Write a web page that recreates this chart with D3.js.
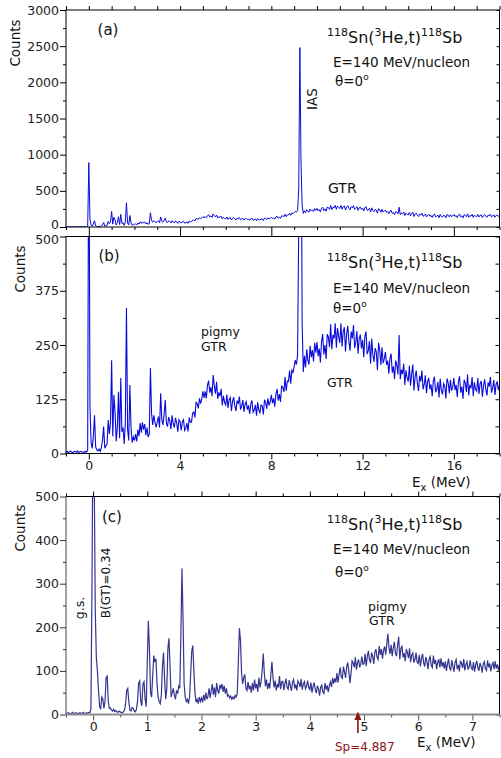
<!DOCTYPE html>
<html><head><meta charset="utf-8">
<script src="https://cdn.jsdelivr.net/npm/d3@7"></script>
<style>body{margin:0;background:#fff} svg{display:block}</style>
</head><body><svg id="chart" width="501" height="758"></svg>
<script>
// ---------- data ----------
// panels (a) and (b): same spectrum, bins of 0.05 MeV starting at -1 MeV
const abStartMeV = -1.0, abStepMeV = 0.05;
const abCounts = [
 3,5,2,4,6,3,2,5,4,3,6,2,4,5,3,4,2,5,3,8,
 890,110,25,12,40,88,15,8,6,10,5,14,30,62,12,18,22,77,45,70,
 215,40,135,95,28,60,142,35,174,50,60,22,70,335,55,30,158,60,25,38,
 30,45,28,55,40,70,48,72,55,68,42,60,38,45,197,92,66,88,72,60,
 72,85,60,139,78,66,90,123,70,62,84,75,56,88,68,60,82,71,50,78,
 73,53,74,78,53,58,70,51,83,72,72,93,96,83,118,115,104,127,115,125,
 143,128,143,127,157,168,140,153,132,181,156,138,165,126,141,132,149,111,133,118,
 112,136,105,124,129,98,120,130,109,98,122,114,131,101,109,123,96,114,119,101,
 111,91,115,122,95,100,112,87,118,100,94,112,110,90,124,118,103,127,111,119,
 135,116,127,108,137,149,122,137,119,155,153,142,176,144,167,166,191,161,192,187,
 200,215,205,228,520,2480,900,300,188,225,198,240,215,205,248,222,238,212,255,232,
 257,224,242,210,258,275,228,250,218,275,268,245,298,240,273,265,300,244,289,270,
 255,300,246,281,291,235,275,294,258,237,281,265,296,243,256,282,230,265,274,242,
 262,222,270,281,229,237,259,207,265,227,211,243,234,192,255,238,204,245,208,218,
 234,204,214,184,219,230,186,201,172,214,204,182,273,171,193,183,207,158,192,174,
 166,202,156,183,205,145,176,191,162,144,179,166,191,148,159,180,139,166,174,148,
 159,132,168,177,141,148,165,129,172,146,136,161,156,127,173,163,139,170,145,153,
 174,146,158,130,166,178,140,154,126,170,162,142,182,134,158,150,176,132,164,148,
 144,174,137,161,167,131,157,171,147,134,164,154,176,140,151,169,135,159,166,146,
 158
];
// panel (c): low-energy region, bins of 0.02 MeV starting at -0.5 MeV
const cStartMeV = -0.5, cStepMeV = 0.02;
const cCounts = [
 3,2,4,3,2,3,5,2,3,4,2,3,2,4,3,2,5,3,2,4,3,5,4,12,300,
 720,560,240,130,100,55,18,12,40,35,14,30,85,88,30,14,15,10,8,12,7,9,6,5,8,
 6,5,4,6,10,25,55,60,28,10,8,16,14,8,6,12,30,72,77,30,20,70,75,35,18,
 120,215,150,50,40,90,135,120,128,70,40,30,25,45,110,142,80,35,60,150,175,110,40,50,60,
 45,35,55,48,65,60,180,335,220,70,40,30,35,25,40,90,145,158,100,50,28,35,25,40,30,
 38,28,45,32,50,35,42,60,38,55,70,45,62,40,72,55,48,68,60,70,52,66,48,60,42,
 45,38,42,35,40,36,44,40,48,120,198,170,95,70,85,92,60,55,75,58,66,50,72,55,80,
 60,70,52,85,62,75,100,140,95,65,80,58,72,60,90,121,85,62,78,55,70,62,88,58,75,
 76,56,71,82,62,58,79,66,54,74,80,60,69,55,77,72,63,81,57,70,75,59,65,78,62,
 57,73,50,65,73,57,49,66,59,43,63,67,51,48,72,57,67,51,67,75,63,84,71,83,74,
 95,73,93,108,86,83,110,97,84,110,119,97,72,95,123,118,108,131,103,119,126,108,116,133,115,
 116,139,111,133,146,126,118,142,134,116,143,150,131,126,157,137,150,128,147,156,137,162,185,154,139,
 160,134,153,167,140,134,160,178,126,151,158,131,141,122,150,142,129,152,120,136,141,119,126,142,120,
 117,137,110,129,139,119,110,132,122,104,127,133,113,108,135,116,125,104,120,127,108,129,110,120,105,
 122,100,116,128,106,102,125,111,98,120,126,104,114,99,123,117,107,127,101,115,121,103,110,124,106,
 103,120,98,114,123,107,100,118,111,96,116,121,105,101,124,108,117,99,113,119,104,122,106,115,102,112
];
const abXDomain = [-1, 18];
const cXDomain = [-0.5, 7.5];
const abXTickLabels = [0, 4, 8, 12, 16];
const aYTickLabels = [0, 500, 1000, 1500, 2000, 2500, 3000];
const bYTickLabels = [0, 125, 250, 375, 500];
const cXTickLabels = [0, 1, 2, 3, 4, 5, 6, 7];
const cYTickLabels = [0, 100, 200, 300, 400, 500];
const spEnergy = 4.887;

// ---------- layout ----------
const FONT = '"DejaVu Sans", "Liberation Sans", Arial, sans-serif';
const svg = d3.select("#chart");
const L = 66, R = 499.5;
const P = { a:{top:10,bottom:227}, b:{top:236.5,bottom:453.5}, c:{top:496.5,bottom:714.5} };
const xAB = d3.scaleLinear().domain(abXDomain).range([L, R]);
const xC = d3.scaleLinear().domain(cXDomain).range([L, R]);
const yA = d3.scaleLinear().domain([0, 3000]).range([P.a.bottom, P.a.top]);
const yB = d3.scaleLinear().domain([0, 500]).range([P.b.bottom, P.b.top]);
const yC = d3.scaleLinear().domain([0, 500]).range([P.c.bottom, P.c.top]);

const defs = svg.append("defs");
for (const k of ["a","b","c"]) {
  defs.append("clipPath").attr("id","clip"+k).append("rect")
    .attr("x", L).attr("y", P[k].top).attr("width", R-L).attr("height", P[k].bottom-P[k].top);
}

function axisFn(o){ return o==="left"?d3.axisLeft:o==="right"?d3.axisRight:o==="top"?d3.axisTop:d3.axisBottom; }
function tickSet(o, scale, vals, len, pos, color){
  const ax = axisFn(o)(scale).tickValues(vals).tickSize(len).tickFormat("");
  const t = (o==="left"||o==="right") ? `translate(${pos},0)` : `translate(0,${pos})`;
  const s = svg.append("g").attr("transform", t).call(ax);
  s.select(".domain").remove();
  s.selectAll("text").remove();
  s.selectAll("line").attr("stroke", color || "#000");
}
function labelSet(o, scale, vals, pos, pad){
  const ax = axisFn(o)(scale).tickValues(vals).tickSize(0).tickPadding(pad).tickFormat(d3.format("d"));
  const t = (o==="left"||o==="right") ? `translate(${pos},0)` : `translate(0,${pos})`;
  const s = svg.append("g").attr("transform", t).call(ax);
  s.select(".domain").remove();
  s.selectAll("line").remove();
  s.attr("font-family", FONT).attr("font-size", 12.5);
  s.selectAll("text").attr("fill", "#222");
  return s;
}
const range = (a,b,s) => d3.range(a, b + s/2, s);

// ---------- spectra ----------
const lineAB = (y) => d3.line().x((d,i) => xAB(abStartMeV + i*abStepMeV)).y(d => y(d));
svg.append("path").datum(abCounts).attr("clip-path","url(#clipa)")
  .attr("d", lineAB(yA)).attr("fill","none").attr("stroke","#0a0adc").attr("stroke-width",1);
svg.append("path").datum(abCounts).attr("clip-path","url(#clipb)")
  .attr("d", lineAB(yB)).attr("fill","none").attr("stroke","#0a0adc").attr("stroke-width",1.1);
svg.append("path").datum(cCounts).attr("clip-path","url(#clipc)")
  .attr("d", d3.line().x((d,i) => xC(cStartMeV + i*cStepMeV)).y(d => yC(d)))
  .attr("fill","none").attr("stroke","#34358f").attr("stroke-width",1.2);

// ---------- frames and ticks ----------
for (const k of ["a","b"]) {
  svg.append("rect").attr("x",L).attr("y",P[k].top).attr("width",R-L).attr("height",P[k].bottom-P[k].top)
    .attr("fill","none").attr("stroke","#000").attr("stroke-width",1);
}
const abMinorX = range(-1, 18, 1).filter(v => v % 4 !== 0);
// (a)
tickSet("top", xAB, range(-1,18,1), 4, P.a.top);
tickSet("bottom", xAB, abXTickLabels, 9, P.a.bottom);
tickSet("bottom", xAB, abMinorX, 3, P.a.bottom);
tickSet("left", yA, aYTickLabels, 6, L);
tickSet("left", yA, range(250,2750,500), 3, L);
tickSet("right", yA, range(0,3000,250), -3, R);
labelSet("left", yA, aYTickLabels, L, 7)
  .selectAll("text").filter(d => d === 0).attr("dy", "0.1em");
// (b)
tickSet("bottom", xAB, abXTickLabels, 6, P.b.bottom);
tickSet("bottom", xAB, abMinorX, 3, P.b.bottom);
tickSet("left", yB, bYTickLabels, 6, L);
tickSet("left", yB, range(62.5,437.5,125), 3, L);
tickSet("right", yB, range(0,500,62.5), -4, R);
labelSet("left", yB, bYTickLabels, L, 7)
  .selectAll("text").filter(d => d === 500).attr("dy", "0.55em");
labelSet("bottom", xAB, abXTickLabels, P.b.bottom, 8);
// (c)
svg.append("line").attr("x1",L).attr("x2",R).attr("y1",P.c.top).attr("y2",P.c.top).attr("stroke","#000");
svg.append("line").attr("x1",R).attr("x2",R).attr("y1",P.c.top).attr("y2",P.c.bottom).attr("stroke","#000");
svg.append("line").attr("x1",L).attr("x2",L).attr("y1",P.c.top).attr("y2",P.c.bottom).attr("stroke","#444");
const cMinorX = range(-0.5, 7.5, 1);
tickSet("top", xC, cXTickLabels, 5, P.c.top);
tickSet("top", xC, cMinorX, 3, P.c.top);
tickSet("bottom", xC, cXTickLabels, 6, P.c.bottom, "#555");
tickSet("bottom", xC, cMinorX, 3, P.c.bottom, "#555");
tickSet("left", yC, cYTickLabels, 6, L, "#333");
tickSet("left", yC, range(50,450,100), 3, L, "#333");
tickSet("right", yC, range(0,500,50), -3, R);
svg.append("line").attr("x1",L).attr("x2",R).attr("y1",P.c.bottom).attr("y2",P.c.bottom)
  .attr("stroke","#8c8c8c").attr("stroke-width",2);
labelSet("left", yC, cYTickLabels, L, 7);
labelSet("bottom", xC, cXTickLabels, P.c.bottom, 8);

// ---------- text ----------
function txt(x, y, s, size, opts={}){
  const t = svg.append("text").attr("x",x).attr("y",y).attr("font-family",FONT)
    .attr("font-size",size).attr("fill", opts.fill || "#111").text(s);
  if (opts.anchor) t.attr("text-anchor", opts.anchor);
  return t;
}
function rtxt(x, y, s, size){
  return svg.append("text").attr("transform",`translate(${x},${y}) rotate(-90)`)
    .attr("text-anchor","middle").attr("font-family",FONT).attr("font-size",size).attr("fill","#111").text(s);
}
function title(x, y){
  const t = svg.append("text").attr("x",x).attr("y",y).attr("font-family",FONT).attr("font-size",16).attr("fill","#111");
  const sup = (s) => t.append("tspan").attr("font-size",11).attr("dy",-7).text(s);
  const main = (s) => t.append("tspan").attr("dy",7).text(s);
  sup("118"); main("Sn("); sup("3"); main("He,t)"); sup("118"); main("Sb");
}
function theta(x, y){
  const t = svg.append("text").attr("x",x).attr("y",y).attr("font-family",FONT).attr("font-size",13.5).attr("fill","#111");
  t.append("tspan").text("θ=0");
  t.append("tspan").attr("font-size",9).attr("dy",-6).text("o");
}
function exLabel(x, y){
  const t = svg.append("text").attr("x",x).attr("y",y).attr("font-family",FONT).attr("font-size",13.5).attr("fill","#111");
  t.append("tspan").text("E");
  t.append("tspan").attr("font-size",10).attr("dy",4).text("x");
  t.append("tspan").attr("dy",-4).text(" (MeV)");
}

rtxt(20, 43, "Counts", 13.5);
rtxt(25, 269, "Counts", 13.5);
rtxt(25, 528, "Counts", 13.5);
txt(108, 35, "(a)", 15, {anchor:"middle"});
txt(109, 261, "(b)", 15, {anchor:"middle"});
txt(112, 522, "(c)", 15, {anchor:"middle"});

title(327, 43); txt(333, 67, "E=140 MeV/nucleon", 13.5); theta(335, 86);
title(327, 268); txt(333, 293, "E=140 MeV/nucleon", 13.5); theta(333, 313);
title(327, 530); txt(333, 554, "E=140 MeV/nucleon", 13.5); theta(335, 577);

rtxt(317, 99, "IAS", 13.5);
txt(328, 193, "GTR", 14);
txt(201, 336, "pigmy", 12.5);
txt(201, 351, "GTR", 12.5);
txt(327, 387, "GTR", 12.5);
exLabel(412, 487);

rtxt(84, 608, "g.s.", 12.5);
rtxt(109.5, 583, "B(GT)=0.34", 12);
txt(368, 611, "pigmy", 12.5);
txt(369, 625, "GTR", 12.5);
exLabel(417, 747);

// Sp arrow
const sx = xC(spEnergy);
svg.append("path").attr("d", `M${sx},711.5 L${sx-3.5},720 L${sx+3.5},720 Z`).attr("fill","#8b1515");
svg.append("line").attr("x1",sx).attr("x2",sx).attr("y1",719).attr("y2",733).attr("stroke","#8b1515").attr("stroke-width",1.6);
txt(335, 751, "Sp=4.887", 12, {fill:"#8b1515"});
</script>
</body></html>
